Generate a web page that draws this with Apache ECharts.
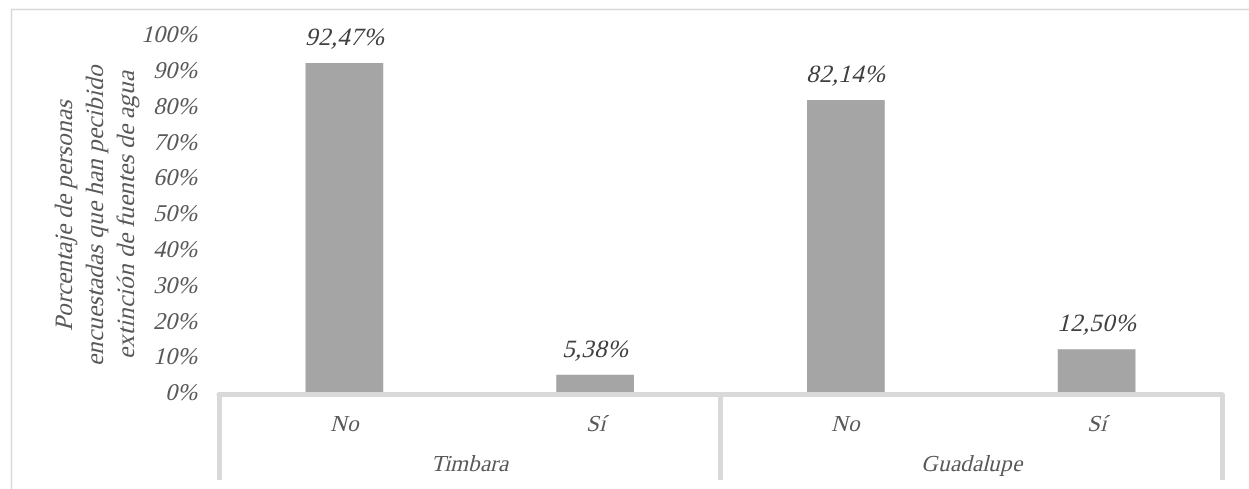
<!DOCTYPE html>
<html>
<head>
<meta charset="utf-8">
<script src="https://cdn.jsdelivr.net/npm/echarts@6/dist/echarts.min.js"></script>
<style>
  /* Upright Times-style face only; italic text is slanted by the browser */
  @font-face {
    font-family: 'ChartSerif';
    src: local('Liberation Serif'), local('LiberationSerif'), local('LiberationSerif-Regular');
    font-style: normal;
    font-weight: 400;
  }
  html, body { margin: 0; padding: 0; background: #ffffff; }
  #chart { width: 1249px; height: 489px; }
</style>
</head>
<body>
<div id="chart"></div>
<script>
// Answers per locality (inner level) and localities (outer level)
const answers = ['No', 'Sí', 'No', 'Sí'];
const localities = ['Timbara', 'Guadalupe'];
// Share of respondents, in percent
const shares = [92.47, 5.38, 82.14, 12.50];
// Vertical axis ticks
const yMin = 0, yMax = 100, yStep = 10;
const yTitle = 'Porcentaje de personas\nencuestadas que han pecibido\nextinción de fuentes de agua';

const serif = "ChartSerif, 'Liberation Serif', serif";
const axisGray = '#d9d9d9';

function draw() {
  const chart = echarts.init(document.getElementById('chart'), null, { renderer: 'canvas' });
  chart.setOption({
    animation: false,
    backgroundColor: '#ffffff',
    graphic: [{
      type: 'rect',
      left: 9, top: 7,
      shape: { width: 1400, height: 700 },
      style: { fill: 'none', stroke: axisGray, lineWidth: 1.5 },
      silent: true,
      z: -10
    }],
    grid: { left: 219, right: 27, top: 36, bottom: 95, containLabel: false },
    xAxis: [{
      type: 'category',
      data: answers,
      position: 'bottom',
      z: 5,
      axisLine: { show: true, lineStyle: { color: axisGray, width: 5 } },
      axisTick: { show: false },
      axisLabel: {
        margin: 19,
        fontFamily: serif, fontStyle: 'italic', fontSize: 23, color: '#595959'
      },
      splitLine: { show: false }
    }, {
      type: 'category',
      data: localities,
      position: 'bottom',
      z: 5,
      axisLine: { show: false },
      axisTick: { show: true, alignWithLabel: false, length: 86, lineStyle: { color: axisGray, width: 5 } },
      axisLabel: {
        margin: 59,
        fontFamily: serif, fontStyle: 'italic', fontSize: 23, color: '#595959'
      },
      splitLine: { show: false }
    }],
    yAxis: {
      type: 'value',
      min: yMin, max: yMax, interval: yStep,
      name: yTitle,
      nameLocation: 'middle',
      nameRotate: 90,
      nameGap: 76,
      nameMoveOverlap: false,
      nameTextStyle: {
        fontFamily: serif, fontStyle: 'italic', fontSize: 25, color: '#595959',
        lineHeight: 31, align: 'center'
      },
      axisLine: { show: false },
      axisTick: { show: false },
      splitLine: { show: false },
      axisLabel: {
        margin: 22,
        formatter: '{value}%',
        fontFamily: serif, fontStyle: 'italic', fontSize: 24, color: '#595959'
      }
    },
    series: [{
      type: 'bar',
      xAxisIndex: 0,
      data: shares,
      barWidth: '31%',
      itemStyle: { color: '#a5a5a5' },
      label: {
        show: true,
        position: 'top',
        distance: 12,
        formatter: p => p.value.toFixed(2).replace('.', ',') + '%',
        fontFamily: serif, fontStyle: 'italic', fontSize: 25, color: '#404040'
      }
    }]
  });
}

if (document.fonts && document.fonts.load) {
  Promise.all([
    document.fonts.load('italic 22px ChartSerif'),
    document.fonts.load('22px ChartSerif')
  ]).then(draw, draw);
} else {
  draw();
}
</script>
</body>
</html>
